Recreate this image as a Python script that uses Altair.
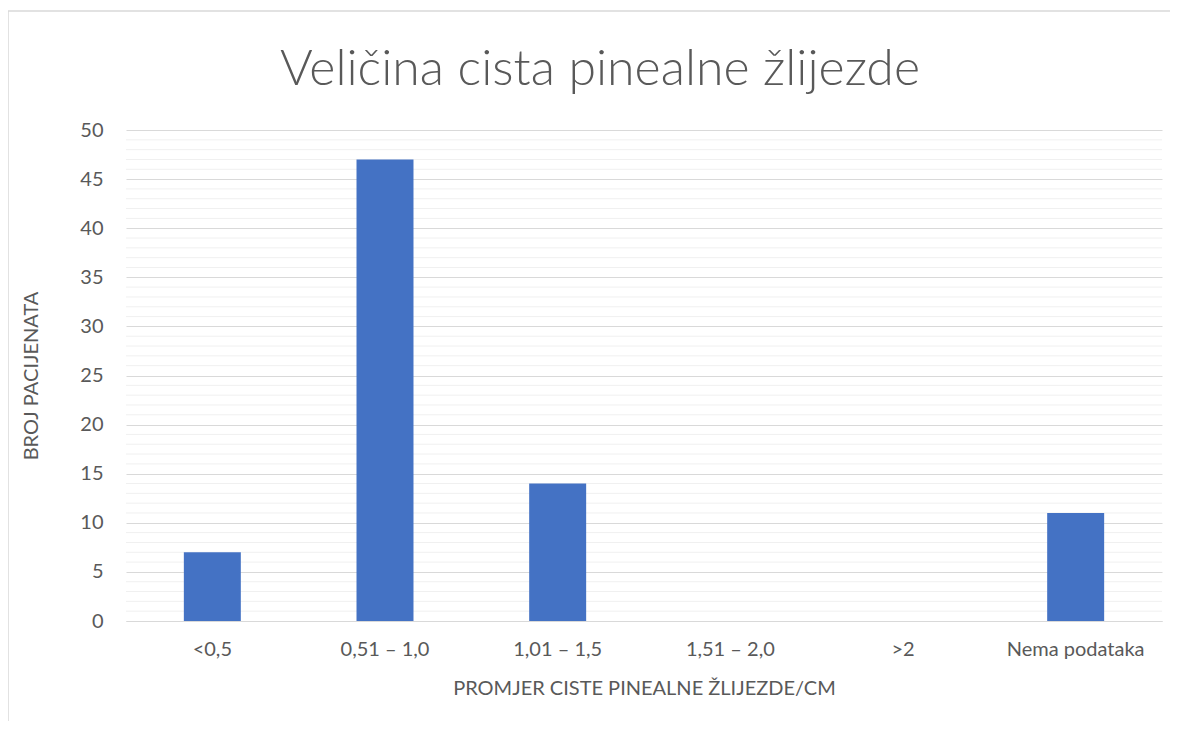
import altair as alt
import pandas as pd

categories = ["<0,5", "0,51 – 1,0", "1,01 – 1,5", "1,51 – 2,0", ">2", "Nema podataka"]
counts = [7, 47, 14, 0, 0, 11]
major_ticks = list(range(0, 51, 5))
minor_ticks = [v for v in range(0, 51) if v % 5 != 0]

df = pd.DataFrame({"kategorija": categories, "broj": counts})
df_minor = pd.DataFrame({"broj": minor_ticks})

FONT = "Lato"
GREY = "#595959"
FS = 20

y_scale = alt.Scale(domain=[0, 50], nice=False)
y_axis = alt.Axis(
    values=major_ticks,
    grid=True,
    gridColor="#d9d9d9",
    gridWidth=1,
    labelFontSize=FS,
    labelColor=GREY,
    labelFont=FONT,
    labelPadding=23,
    ticks=False,
    domain=False,
    title="BROJ PACIJENATA",
    titleFontSize=FS,
    titleFont=FONT,
    titleFontWeight="normal",
    titleColor=GREY,
    titlePadding=38,
)

minor = alt.Chart(df_minor).mark_rule(color="#f0f0f0", strokeWidth=1).encode(
    y=alt.Y("broj:Q", scale=y_scale, axis=y_axis)
)

bars = alt.Chart(df).mark_bar(color="#4472C4").encode(
    x=alt.X(
        "kategorija:N",
        sort=categories,
        scale=alt.Scale(paddingInner=0.67, paddingOuter=0.335),
        axis=alt.Axis(
            title="PROMJER CISTE PINEALNE ŽLIJEZDE/CM",
            labelAngle=0,
            labelFontSize=FS,
            labelColor=GREY,
            labelFont=FONT,
            labelPadding=18,
            ticks=False,
            grid=False,
            domain=True,
            domainColor="#d9d9d9",
            domainWidth=1,
            titleFontSize=FS,
            titleFont=FONT,
            titleFontWeight="normal",
            titleColor=GREY,
            titlePadding=19,
        ),
    ),
    y=alt.Y("broj:Q", scale=y_scale, axis=y_axis),
)

frame = alt.Chart(pd.DataFrame({"f": [0]})).mark_rect(
    fill="transparent", stroke="#d9d9d9", strokeWidth=1.5
).encode(
    x=alt.value(-118), x2=alt.value(1100), y=alt.value(-119), y2=alt.value(640)
)

chart = (
    alt.layer(frame, minor, bars)
    .properties(
        width=1036,
        height=491,
        padding={"left": 118, "top": 122, "right": 8, "bottom": 100},
        autosize=alt.AutoSizeParams(type="none"),
        view=alt.ViewBackground(strokeWidth=0, strokeOpacity=0),
        title=alt.TitleParams(
            "Veličina cista pinealne žlijezde",
            font=FONT,
            fontSize=50,
            fontWeight=300,
            color=GREY,
            anchor="middle",
            frame="group",
            dx=-44,
            offset=-85,
        ),
    )
    .configure_view(strokeOpacity=0, strokeWidth=0)
    .configure(background="white")
)

chart.save("out.html", embed_options={"renderer": "svg", "actions": False})
